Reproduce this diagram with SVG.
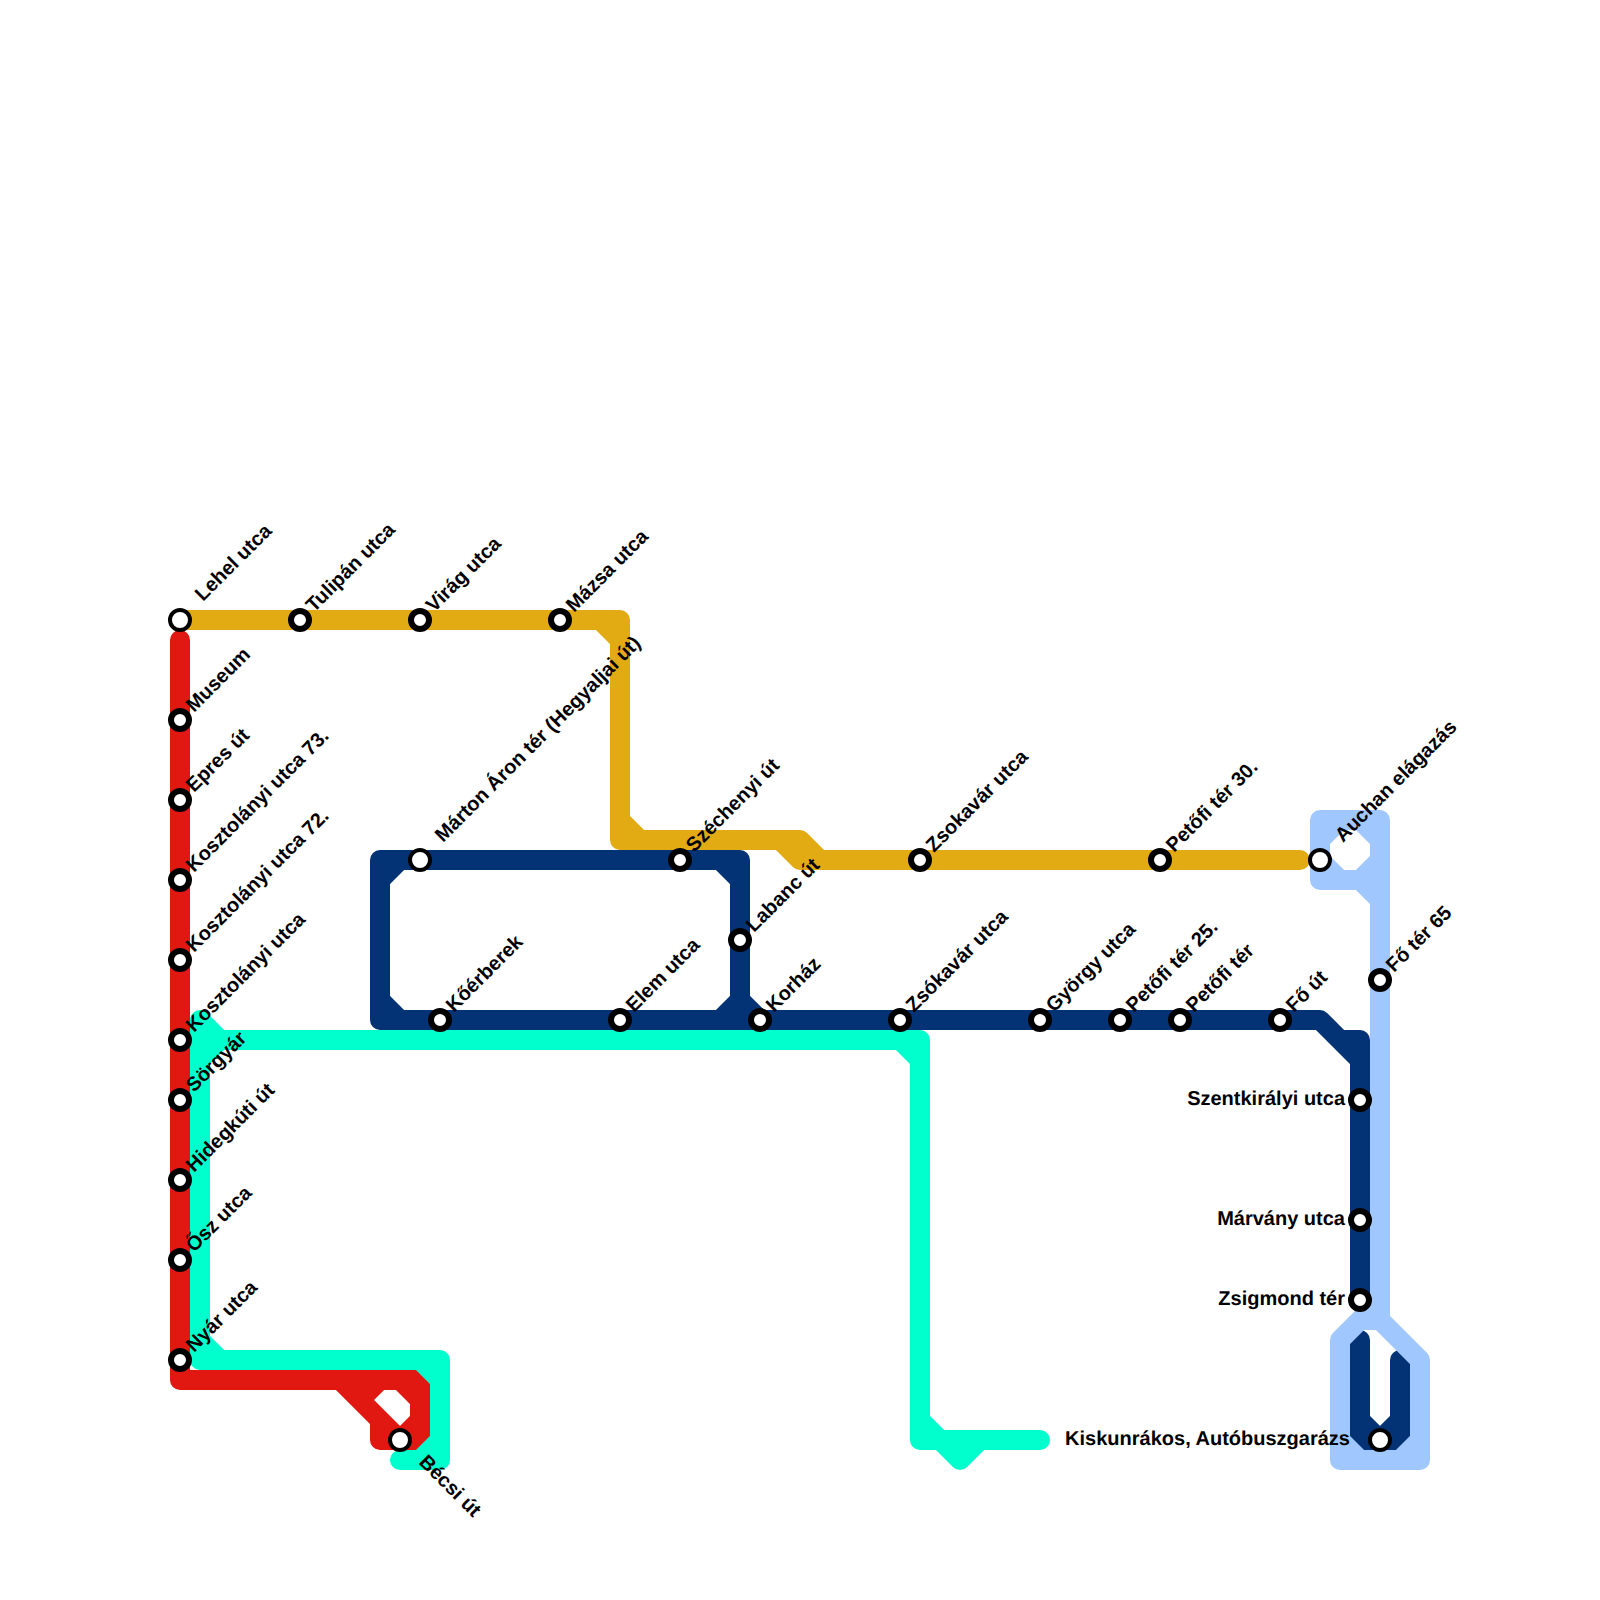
<svg xmlns="http://www.w3.org/2000/svg" width="1600" height="1600" viewBox="0 0 1600 1600">
<style>
.l{fill:none;stroke-width:20;stroke-linecap:round;stroke-linejoin:round}
.s{fill:#fff;stroke:#000;stroke-width:6}
.b{fill:#fff;stroke:#000;stroke-width:4}
text{font-family:"Liberation Sans",Arial,sans-serif;font-weight:700;font-size:20px;fill:#000;text-rendering:geometricPrecision}
.e{text-anchor:end}
</style>
<rect width="1600" height="1600" fill="#fff"/>
<g id="connectors">
<path id="line-gold" class="l" stroke="#e2aa13" d="M180 620H620V840H800L820 860H1300M600 620L620 640M620 820L640 840M780 840L800 860H820"/>
<path id="line-red" class="l" stroke="#e11812" d="M180 640V1380H420V1440H380V1420L340 1380M400 1380L420 1400M420 1420L400 1440L380 1420M360 1400L380 1380"/>
<path id="line-navy" class="l" stroke="#033375" d="M1320 1020H380V860H740V1020M380 880L400 860M380 1000L400 1020M720 860L740 880M720 1020L740 1000L760 1020M1320 1020L1360 1060M1320 1020L1340 1040H1360V1300M1360 1340V1440H1400V1360M1360 1420L1380 1440L1400 1420"/>
<path id="line-mint" class="l" stroke="#00ffcc" d="M200 1020L220 1040H920V1440H1040M200 1020V1360H440V1460H400M200 1060L220 1040M200 1340L220 1360M420 1360L440 1380M420 1460L440 1440M900 1040L920 1060M920 1420L940 1440L960 1460L980 1440"/>
<path id="line-blue" class="l" stroke="#a0c8ff" d="M1380 1320V820H1320V880H1360L1380 900M1320 840L1340 820M1320 860L1340 880M1360 820L1380 840M1360 880L1380 860M1380 1320L1420 1360V1460H1340V1340L1380 1300M1360 1320H1380M1340 1440L1360 1460M1400 1460L1420 1440"/>
</g>
<g id="st-lehel"><circle class="b" cx="180" cy="620" r="10"/><text transform="translate(203 602) rotate(-45)">Lehel utca</text></g>
<g id="st-tulipan"><circle class="s" cx="300" cy="620" r="9"/><text transform="translate(314 613) rotate(-45)">Tulipán utca</text></g>
<g id="st-virag"><circle class="s" cx="420" cy="620" r="9"/><text transform="translate(434 613) rotate(-45)">Virág utca</text></g>
<g id="st-mazsa"><circle class="s" cx="560" cy="620" r="9"/><text transform="translate(574 613) rotate(-45)">Mázsa utca</text></g>
<g id="st-museum"><circle class="s" cx="180" cy="720" r="9"/><text transform="translate(194 713) rotate(-45)">Museum</text></g>
<g id="st-epres"><circle class="s" cx="180" cy="800" r="9"/><text transform="translate(194 793) rotate(-45)">Epres út</text></g>
<g id="st-k73"><circle class="s" cx="180" cy="880" r="9"/><text transform="translate(194 873) rotate(-45)">Kosztolányi utca 73.</text></g>
<g id="st-k72"><circle class="s" cx="180" cy="960" r="9"/><text transform="translate(194 953) rotate(-45)">Kosztolányi utca 72.</text></g>
<g id="st-k"><circle class="s" cx="180" cy="1040" r="9"/><text transform="translate(194 1033) rotate(-45)">Kosztolányi utca</text></g>
<g id="st-sorgyar"><circle class="s" cx="180" cy="1100" r="9"/><text transform="translate(194 1093) rotate(-45)">Sörgyár</text></g>
<g id="st-hidegkuti"><circle class="s" cx="180" cy="1180" r="9"/><text transform="translate(194 1173) rotate(-45)">Hidegkúti út</text></g>
<g id="st-osz"><circle class="s" cx="180" cy="1260" r="9"/><text transform="translate(194 1253) rotate(-45)">Ősz utca</text></g>
<g id="st-nyar"><circle class="s" cx="180" cy="1360" r="9"/><text transform="translate(194 1353) rotate(-45)">Nyár utca</text></g>
<g id="st-becsi"><circle class="b" cx="400" cy="1440" r="10"/><text transform="translate(418 1463) rotate(45)">Bécsi út</text></g>
<g id="st-marton"><circle class="b" cx="420" cy="860" r="10"/><text transform="translate(443 843) rotate(-45)">Márton Áron tér (Hegyaljai út)</text></g>
<g id="st-koerberek"><circle class="s" cx="440" cy="1020" r="9"/><text transform="translate(454 1013) rotate(-45)">Kőérberek</text></g>
<g id="st-elem"><circle class="s" cx="620" cy="1020" r="9"/><text transform="translate(634 1013) rotate(-45)">Elem utca</text></g>
<g id="st-szechenyi"><circle class="s" cx="680" cy="860" r="9"/><text transform="translate(694 853) rotate(-45)">Széchenyi út</text></g>
<g id="st-labanc"><circle class="s" cx="740" cy="940" r="9"/><text transform="translate(754 933) rotate(-45)">Labanc út</text></g>
<g id="st-korhaz"><circle class="s" cx="760" cy="1020" r="9"/><text transform="translate(774 1013) rotate(-45)">Korház</text></g>
<g id="st-zsokavar"><circle class="s" cx="900" cy="1020" r="9"/><text transform="translate(914 1013) rotate(-45)">Zsókavár utca</text></g>
<g id="st-zsokavar2"><circle class="s" cx="920" cy="860" r="9"/><text transform="translate(934 853) rotate(-45)">Zsokavár utca</text></g>
<g id="st-gyorgy"><circle class="s" cx="1040" cy="1020" r="9"/><text transform="translate(1054 1013) rotate(-45)">György utca</text></g>
<g id="st-petofi25"><circle class="s" cx="1120" cy="1020" r="9"/><text transform="translate(1134 1013) rotate(-45)">Petőfi tér 25.</text></g>
<g id="st-petofi"><circle class="s" cx="1180" cy="1020" r="9"/><text transform="translate(1194 1013) rotate(-45)">Petőfi tér</text></g>
<g id="st-fout"><circle class="s" cx="1280" cy="1020" r="9"/><text transform="translate(1294 1013) rotate(-45)">Fő út</text></g>
<g id="st-petofi30"><circle class="s" cx="1160" cy="860" r="9"/><text transform="translate(1174 853) rotate(-45)">Petőfi tér 30.</text></g>
<g id="st-auchan"><circle class="b" cx="1320" cy="860" r="10"/><text transform="translate(1343 843) rotate(-45)">Auchan elágazás</text></g>
<g id="st-foter"><circle class="s" cx="1380" cy="980" r="9"/><text transform="translate(1394 973) rotate(-45)">Fő tér 65</text></g>
<g id="st-szentkiralyi"><circle class="s" cx="1360" cy="1100" r="9"/><text class="e" x="1345" y="1105">Szentkirályi utca</text></g>
<g id="st-marvany"><circle class="s" cx="1360" cy="1220" r="9"/><text class="e" x="1345" y="1225">Márvány utca</text></g>
<g id="st-zsigmond"><circle class="s" cx="1360" cy="1300" r="9"/><text class="e" x="1345" y="1305">Zsigmond tér</text></g>
<g id="st-kiskunrakos"><circle class="b" cx="1380" cy="1440" r="10"/><text class="e" x="1350" y="1445">Kiskunrákos, Autóbuszgarázs</text></g>
</svg>
